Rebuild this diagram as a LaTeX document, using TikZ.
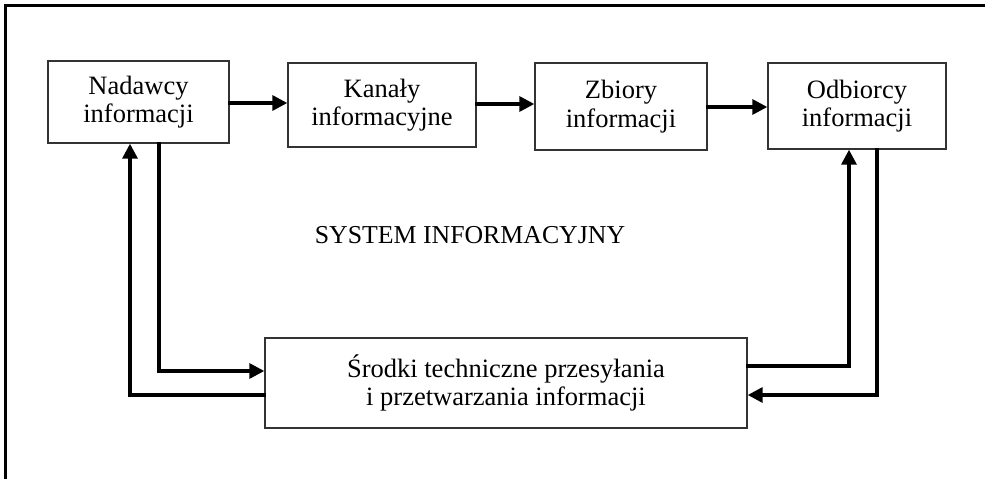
\documentclass[tikz,border=0pt]{standalone}
\usepackage{fontspec}
\setmainfont{Liberation Serif}
\usetikzlibrary{arrows.meta}
\begin{document}
\begin{tikzpicture}[x=1pt,y=-1pt,
  box/.style={draw=black!80, line width=1.4pt, align=center, inner sep=0pt,
    font=\fontsize{26.5}{28.5}\selectfont},
  conn/.style={line width=3.3pt, line cap=rect, draw=black},
  arr/.style={conn, -{Triangle[length=15pt,width=15pt]}},
  frame/.style={line width=3pt, draw=black}]
\useasboundingbox (0,0) rectangle (985,479);
\draw[frame] (5,479) -- (5,5) -- (985,5);
\node[box, minimum width=181pt, minimum height=82pt] (n1) at (138.5,102) {Nadawcy\\informacji};
\node[box, minimum width=188pt, minimum height=84pt] (n2) at (382,105) {Kanały\\informacyjne};
\node[box, minimum width=172pt, minimum height=87pt] (n3) at (621,106.5) {Zbiory\\informacji};
\node[box, minimum width=178pt, minimum height=86pt] (n4) at (857,106) {Odbiorcy\\informacji};
\node[box, minimum width=482pt, minimum height=90pt] (s) at (506,383) {Środki techniczne przesyłania\\i przetwarzania informacji};
\node[font=\fontsize{25.8}{28}\selectfont, anchor=base, inner sep=0pt] (t) at (470,243) {SYSTEM INFORMACYJNY};
\draw[arr] (n1.east |- 0,103) -- (n2.west |- 0,103);
\draw[arr] (n2.east |- 0,104) -- (n3.west |- 0,104);
\draw[arr] (n3.east |- 0,107) -- (n4.west |- 0,107);
\draw[arr] (n1.south -| 159,0) |- (s.west |- 0,371);
\draw[arr] (s.west |- 0,395) -| (n1.south -| 130,0);
\draw[arr] (s.east |- 0,366) -| (n4.south -| 849,0);
\draw[arr] (n4.south -| 877,0) |- (s.east |- 0,395);
\end{tikzpicture}
\end{document}
